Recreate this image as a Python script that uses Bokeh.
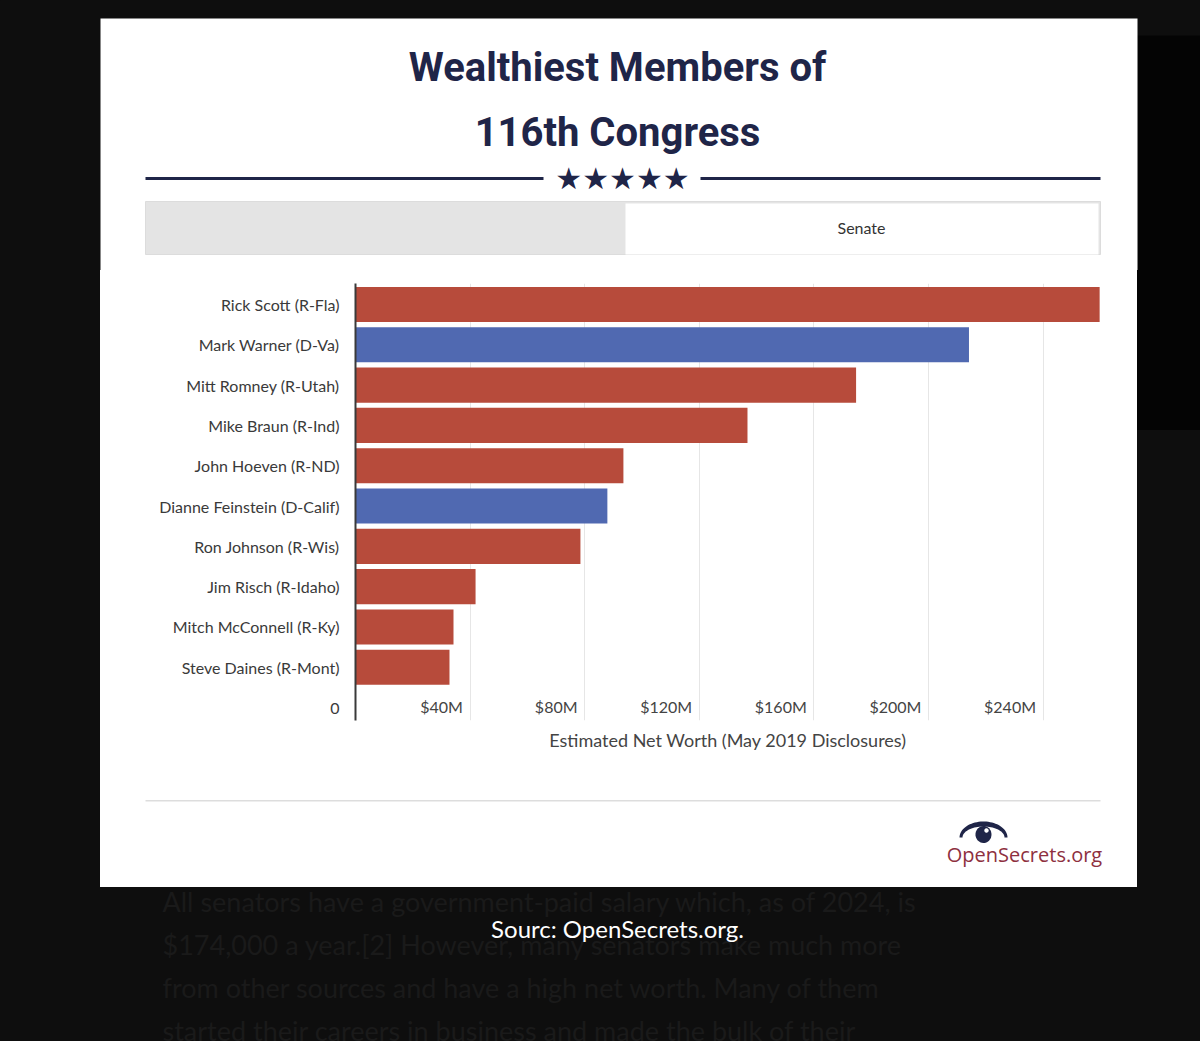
import numpy as np
from bokeh.plotting import figure
from bokeh.layouts import column, row
from bokeh.models import Range1d, FixedTicker, ColumnDataSource, Spacer
from bokeh.core.properties import value
from bokeh.embed import file_html
from bokeh.resources import INLINE

# ---------------- data ----------------
senators = [
    "Rick Scott (R-Fla)",
    "Mark Warner (D-Va)",
    "Mitt Romney (R-Utah)",
    "Mike Braun (R-Ind)",
    "John Hoeven (R-ND)",
    "Dianne Feinstein (D-Calif)",
    "Ron Johnson (R-Wis)",
    "Jim Risch (R-Idaho)",
    "Mitch McConnell (R-Ky)",
    "Steve Daines (R-Mont)",
]
parties = ["R", "D", "R", "R", "R", "D", "R", "R", "R", "R"]
net_worth_musd = [259.7, 214.1, 174.7, 136.8, 93.5, 87.9, 78.5, 41.9, 34.2, 32.8]
x_ticks = [0, 40, 80, 120, 160, 200, 240]
x_tick_labels = ["0", "$40M", "$80M", "$120M", "$160M", "$200M", "$240M"]
x_max = 260

title_lines = ["Wealthiest Members of", "116th Congress"]
tab_label = "Senate"
x_axis_title = "Estimated Net Worth (May 2019 Disclosures)"
logo_text = "OpenSecrets.org"
caption = "Sourc: OpenSecrets.org."
page_lines = [
    "All senators have a government-paid salary which, as of 2024, is",
    "$174,000 a year.[2] However, many senators make much more",
    "from other sources and have a high net worth. Many of them",
    "started their careers in business and made the bulk of their",
]

# ---------------- style / geometry (page pixels) ----------------
party_colors = {"R": "#b74b3b", "D": "#5069b1"}
NAVY = "#1f2548"
BG = "#0e0e0e"
BLACK_BOX = "#040404"
W, H = 1200, 1041
CARD_L, CARD_R, CARD_T, CARD_B = 100, 1137, 18, 887
TOP_H = 270                    # header strip
MID_B = 790                    # bottom of chart strip
FL, FT, FR, FB = 355, 283, 1100, 720   # plot frame
ROW_PAD_TOP, ROW_PAD_BOTTOM = 0.52, 1.32
LABEL_GAP = 2.5                # tick labels end just left of their gridline
BAR_H = 0.87


def deco(x0, y0, w, h, fill=BG, styles=None):
    f = figure(width=w, height=h, x_range=Range1d(x0, x0 + w), y_range=Range1d(y0 + h, y0),
               x_axis_type=None, y_axis_type=None, output_backend="svg", toolbar_location=None,
               min_border=0, border_fill_color=fill, background_fill_color=fill,
               outline_line_color=None, styles=styles or {"background-color": BG})
    f.grid.visible = False
    return f


def box(f, x0, x1, y0, y1, color, line=None):
    f.quad(left=[x0], right=[x1], top=[y0], bottom=[y1], fill_color=color,
           line_color=line)


def txt(f, s, x, y, size, color, font="Lato", style="normal", align="center", baseline="middle"):
    f.text(x=[x], y=[y], text=[s], text_font=value(font), text_font_size=f"{size}px",
           text_color=color, text_font_style=style, text_align=align, text_baseline=baseline)


# ---------- header ----------
top = deco(0, 0, W, TOP_H)
box(top, CARD_R, W + 5, 35, TOP_H + 5, BLACK_BOX)
box(top, CARD_L, CARD_R, CARD_T, TOP_H + 5, "#ffffff")
txt(top, title_lines[0], 617, 67, 40, NAVY, font="Roboto", style="bold")
txt(top, title_lines[1], 617, 132, 40, NAVY, font="Roboto", style="bold")
box(top, 145, 543, 176.5, 179.5, NAVY)
box(top, 700, 1100, 176.5, 179.5, NAVY)
txt(top, "★★★★★", 622, 178, 30, NAVY, font="DejaVu Sans")
box(top, 145, 1100, 201, 254, "#e4e4e4", line="#dcdcdc")
box(top, 625, 1098, 203, 254, "#ffffff")
txt(top, tab_label, 861, 227, 16, "#333333")

# ---------- side pads (plain page background) ----------
left_pad = Spacer(width=CARD_L, height=MID_B - TOP_H, styles={"background-color": BG})
right_pad = Spacer(width=W - CARD_R, height=MID_B - TOP_H, styles={
    "background": f"linear-gradient(to bottom, {BLACK_BOX} 0px, {BLACK_BOX} {430 - TOP_H}px, {BG} {430 - TOP_H}px, {BG} 100%)"})

# ---------- chart ----------
n = len(senators)
rows = list(range(n))
zero_row = n                   # the band under the last bar that carries the x tick labels
src = ColumnDataSource(dict(
    row=rows, worth=net_worth_musd, name=senators,
    color=[party_colors[q] for q in parties],
))

p = figure(
    width=CARD_R - CARD_L, height=MID_B - TOP_H,
    x_range=Range1d(0, x_max),
    y_range=Range1d(n - 1 + ROW_PAD_BOTTOM, -ROW_PAD_TOP),
    output_backend="svg", toolbar_location=None,
    min_border_left=FL - CARD_L, min_border_right=CARD_R - FR,
    min_border_top=FT - TOP_H, min_border_bottom=MID_B - FB,
    border_fill_color="#ffffff", background_fill_color="#ffffff",
    outline_line_color=None, styles={"background-color": "#ffffff"},
)
p.hbar(y="row", left=0, right="worth", height=BAR_H, fill_color="color",
       line_color=None, source=src)

# y axis: senator names, plus the x axis' "0" which sits left of the axis line
y_labels = {r: s for r, s in zip(rows, senators)}
y_labels[zero_row] = x_tick_labels[0]
p.yaxis.ticker = FixedTicker(ticks=rows + [zero_row])
p.yaxis.major_label_overrides = y_labels
p.yaxis.major_tick_line_color = None
p.yaxis.minor_tick_line_color = None
p.yaxis.axis_line_color = "#3a3a3a"
p.yaxis.axis_line_width = 2
p.yaxis.major_label_standoff = 10
p.yaxis.major_label_text_font = "Lato"
p.yaxis.major_label_text_font_size = "16px"
p.yaxis.major_label_text_color = "#3a3a3a"
p.ygrid.visible = False

# x axis: labels pulled up into the band under the last bar, right-aligned to gridlines
p.xaxis.ticker = FixedTicker(ticks=[t - LABEL_GAP for t in x_ticks[1:]])
p.xaxis.major_label_overrides = {t - LABEL_GAP: s for t, s in zip(x_ticks[1:], x_tick_labels[1:])}
p.xaxis.major_label_orientation = 1e-4
p.xaxis.axis_line_color = None
p.xaxis.major_tick_out = 0
p.xaxis.major_tick_line_color = None
p.xaxis.minor_tick_line_color = None
p.xaxis.major_label_standoff = -14
p.xaxis.major_label_text_font = "Lato"
p.xaxis.major_label_text_font_size = "16px"
p.xaxis.major_label_text_color = "#444444"
p.xaxis.axis_label = x_axis_title
p.xaxis.axis_label_text_font = "Lato"
p.xaxis.axis_label_text_font_style = "normal"
p.xaxis.axis_label_text_font_size = "18px"
p.xaxis.axis_label_text_color = "#444444"
p.xaxis.axis_label_standoff = 0

p.xgrid.ticker = FixedTicker(ticks=x_ticks[1:])
p.xgrid.grid_line_color = "#e6e6e6"
p.xgrid.grid_line_width = 1

# ---------- footer (card edge and page background painted by CSS, no canvas fills) ----------
card_h = CARD_B - MID_B
bot = deco(0, MID_B, W, H - MID_B, fill=None, styles={
    "background": (f"linear-gradient({BG}, {BG}) 0px {card_h}px / 100% 100% no-repeat, "
                   f"linear-gradient(to right, {BG} {CARD_L}px, #ffffff {CARD_L}px, "
                   f"#ffffff {CARD_R}px, {BG} {CARD_R}px)")})
for i, line in enumerate(page_lines):
    txt(bot, line, 162, 901 + 43 * i, 27, "#1a1a1a", align="left")
box(bot, 145, 1100, 799.5, 801, "#dddddd")
t = np.linspace(0, np.pi, 40)
brow_x = list(983 + 24 * np.cos(t)) + list(983 + 21 * np.cos(t[::-1]))
brow_y = list(837 - 16 * np.sin(t)) + list(837 - 11 * np.sin(t[::-1]))
bot.patch(brow_x, brow_y, fill_color=NAVY, line_color=None)
u = np.linspace(0, 2 * np.pi, 40)
bot.patch(list(983 + 8 * np.cos(u)), list(834 + 8.5 * np.sin(u)), fill_color=NAVY, line_color=None)
bot.patch(list(986 + 2.2 * np.cos(u)), list(830 + 2.2 * np.sin(u)), fill_color="#ffffff", line_color=None)
txt(bot, logo_text, 1024, 854, 20, "#8e3040", font="Open Sans")
txt(bot, caption, 617, 928, 24, "#ffffff")

page = column(top, row(left_pad, p, right_pad, spacing=0), bot, spacing=0)
open("out.html", "w").write(file_html(page, INLINE))
